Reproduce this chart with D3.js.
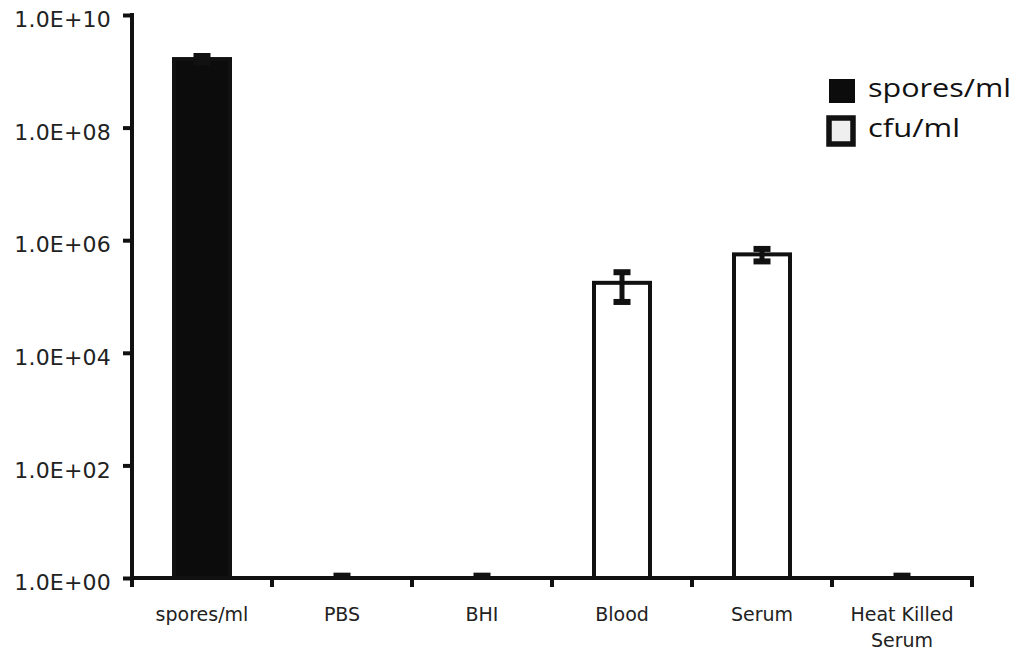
<!DOCTYPE html>
<html>
<head>
<meta charset="utf-8">
<script src="https://cdn.jsdelivr.net/npm/d3@7"></script>
<style>
  html, body { margin: 0; padding: 0; background: #fff; }
  svg { display: block; }
</style>
</head>
<body>
<svg id="chart" width="1017" height="651"></svg>
<script>
// Spore counts and recovered colony-forming units per condition
const categories = ["spores/ml", "PBS", "BHI", "Blood", "Serum", "Heat Killed Serum"];
const seriesOf   = ["spores", "cfu", "cfu", "cfu", "cfu", "cfu"];
const means      = [1.65e9, 1, 1, 1.75e5, 5.6e5, 1];
const errors     = [2.2e8, 0.1, 0.1, 9.5e4, 1.4e5, 0.1];
const yTicks     = [1, 1e2, 1e4, 1e6, 1e8, 1e10];
const legendKeys = ["spores", "cfu"];
const legendText = ["spores/ml", "cfu/ml"];

(function () {
  const ink = "#111";
  const fills = { spores: "#0c0c0c", cfu: "#ffffff" };
  const legendFills = { spores: "#0c0c0c", cfu: "#efefef" };

  const svg = d3.select("#chart");
  const mLeft = 132, mRight = 972, mTop = 15, mBottom = 578;

  const x = d3.scaleBand().domain(categories).range([mLeft, mRight]).padding(0);
  const y = d3.scaleLog().domain([1, 1e10]).range([mBottom, mTop]);

  const barW = 56;
  const rows = categories.map((c, i) => ({ c, s: seriesOf[i], v: means[i], e: errors[i] }));
  const cx = d => x(d.c) + x.bandwidth() / 2;

  // bars
  svg.append("g").selectAll("rect").data(rows).join("rect")
    .attr("x", d => cx(d) - barW / 2)
    .attr("y", d => y(d.v))
    .attr("width", barW)
    .attr("height", d => y(1) - y(d.v))
    .attr("fill", d => fills[d.s])
    .attr("stroke", ink)
    .attr("stroke-width", 4);

  // error bars
  const capW = 17, capH = 6;
  const eb = svg.append("g").selectAll("g").data(rows).join("g");
  eb.append("line")
    .attr("x1", cx).attr("x2", cx)
    .attr("y1", d => y(d.v + d.e))
    .attr("y2", d => y(Math.max(1, d.v - d.e)))
    .attr("stroke", ink).attr("stroke-width", 5);
  eb.append("rect")
    .attr("x", d => cx(d) - capW / 2)
    .attr("y", d => y(d.v + d.e) - capH / 2)
    .attr("width", capW).attr("height", capH).attr("fill", ink);
  eb.filter(d => d.v - d.e > 1).append("rect")
    .attr("x", d => cx(d) - capW / 2)
    .attr("y", d => y(d.v - d.e) - capH / 2)
    .attr("width", capW).attr("height", capH).attr("fill", ink);

  // y axis
  const yAxis = d3.axisLeft(y)
    .tickValues(yTicks)
    .tickSize(9)
    .tickSizeOuter(0)
    .tickPadding(12)
    .tickFormat(d => "1.0E+" + String(Math.round(Math.log10(d))).padStart(2, "0"));
  const gy = svg.append("g").attr("transform", `translate(${mLeft},0)`).call(yAxis);
  gy.select(".domain").attr("stroke", ink).attr("stroke-width", 4)
    .attr("d", `M0,${mTop - 2}V${mBottom + 5}`);
  gy.selectAll(".tick line").attr("stroke", ink).attr("stroke-width", 4);
  gy.selectAll(".tick text")
    .attr("font-family", "DejaVu Sans, Verdana, sans-serif")
    .attr("font-size", 22)
    .attr("letter-spacing", 0.2)
    .attr("fill", "#222")
    .attr("dy", "0.53em");

  // x axis: baseline, boundary ticks, centred labels
  svg.append("line")
    .attr("x1", mLeft).attr("x2", mRight + 2)
    .attr("y1", y(1)).attr("y2", y(1))
    .attr("stroke", ink).attr("stroke-width", 4);
  const bounds = categories.map(c => x(c)).concat([x.range()[1]]);
  svg.append("g").selectAll("line").data(bounds).join("line")
    .attr("x1", d => d).attr("x2", d => d)
    .attr("y1", y(1)).attr("y2", y(1) + 9)
    .attr("stroke", ink).attr("stroke-width", 4);

  const xl = svg.append("g").selectAll("text").data(categories).join("text")
    .attr("x", d => x(d) + x.bandwidth() / 2)
    .attr("y", 621)
    .attr("text-anchor", "middle")
    .attr("font-family", "DejaVu Sans, Verdana, sans-serif")
    .attr("font-size", 19)
    .attr("fill", "#222");
  xl.each(function (d) {
    const t = d3.select(this);
    const parts = d.split(" ");
    const lines = parts.length > 2 ? [parts.slice(0, 2).join(" "), parts.slice(2).join(" ")] : [d];
    lines.forEach((w, i) => {
      t.append("tspan").attr("x", x(d) + x.bandwidth() / 2).attr("dy", i ? 26 : 0).text(w);
    });
  });

  // legend
  const lg = svg.append("g");
  const boxes = [{ x: 829, y: 79, w: 26, h: 24, sw: 0 }, { x: 829, y: 118, w: 24, h: 26, sw: 5.5 }];
  const textW = [143, 92];
  const baseY = [97, 137];
  legendKeys.forEach((k, i) => {
    const b = boxes[i];
    lg.append("rect")
      .attr("x", b.x).attr("y", b.y).attr("width", b.w).attr("height", b.h)
      .attr("fill", legendFills[k])
      .attr("stroke", ink).attr("stroke-width", b.sw);
    lg.append("text")
      .attr("x", 868).attr("y", baseY[i])
      .attr("font-family", "Open Sans, Noto Sans, sans-serif")
      .attr("font-size", 25)
      .attr("fill", "#111")
      .attr("textLength", textW[i])
      .attr("lengthAdjust", "spacingAndGlyphs")
      .text(legendText[i]);
  });
})();
</script>
</body>
</html>
